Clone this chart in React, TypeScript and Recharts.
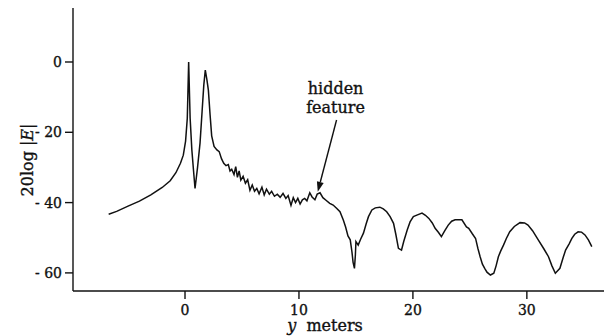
import { LineChart, Line, XAxis, YAxis, ReferenceLine } from "recharts";

// distance along y (meters) and field level 20log|E| (dB)
const distance = [
  -6.7, -6.0, -5.0, -4.0, -3.0, -2.0, -1.3, -0.8, -0.4, -0.15, 0.05, 0.2, 0.32, 0.45, 0.6, 0.75,
  0.88, 1.1, 1.32, 1.5, 1.65, 1.78, 1.92, 2.05, 2.2, 2.34, 2.55, 2.8, 3.0, 3.2, 3.4, 3.6, 3.8,
  3.95, 4.1, 4.3, 4.45, 4.6, 4.75, 4.9, 5.1, 5.3, 5.5, 5.7, 5.9, 6.1, 6.3, 6.5, 6.75, 6.95, 7.15,
  7.4, 7.6, 7.85, 8.1, 8.35, 8.6, 8.85, 9.05, 9.3, 9.5, 9.7, 9.9, 10.1, 10.3, 10.5, 10.7, 10.95,
  11.15, 11.4, 11.6, 11.85, 12.1, 12.4, 12.7, 13.0, 13.3, 13.6, 13.9, 14.1, 14.3, 14.5, 14.65,
  14.75, 14.87, 14.95, 15.0, 15.2, 15.4, 15.66, 15.9, 16.1, 16.4, 16.7, 17.1, 17.4, 17.7, 18.0,
  18.3, 18.5, 18.73, 19.0, 19.2, 19.5, 19.75, 20.04, 20.4, 20.8, 21.1, 21.4, 21.7, 21.95, 22.25,
  22.5, 22.8, 23.1, 23.4, 23.7, 24.3, 24.7, 24.9, 25.2, 25.5, 25.7, 25.9, 26.1, 26.3, 26.5, 26.8,
  27.1, 27.3, 27.5, 27.7, 27.95, 28.2, 28.5, 28.9, 29.4, 29.8, 30.1, 30.5, 31.0, 31.5, 31.9,
  32.2, 32.5, 32.9, 33.2, 33.4, 33.7, 33.95, 34.2, 34.5, 34.8, 35.1, 35.4, 35.7,
];

const level = [
  -43.3, -42.5, -41.0, -39.6, -37.8, -35.7, -33.8, -31.5, -28.8, -26.5, -22.5, -16, 0, -16, -25,
  -31, -36, -30, -23, -14, -6.5, -2.3, -5, -8, -15, -21, -24, -25, -25.5, -27.5, -28.8, -29.5,
  -29.2, -31, -30.5, -32, -29.8, -32.8, -31, -33.6, -32.5, -34.5, -33.5, -36.5, -35, -36.8, -36,
  -37.5, -35.6, -37.8, -36.2, -37.6, -36.8, -38.2, -37.6, -38.5, -37.4, -38.8, -38.0, -40.8,
  -38.6, -40.0, -38.8, -40.4, -39.2, -38.8, -39.5, -37.2, -38.4, -39.2, -37.6, -37.2, -38.6,
  -39.4, -40.2, -40.7, -41.6, -42.6, -45, -47, -49.5, -50.6, -54, -57, -58.7, -55, -51.1, -52.1,
  -50.5, -48.7, -46, -44, -42.1, -41.5, -41.3, -41.8, -42.6, -44, -45.9, -49, -53, -53.5, -51,
  -47.8, -45.5, -44, -43.5, -43, -43.6, -44.5, -45.8, -47.3, -48.5, -49.7, -48, -46.4, -45.3,
  -44.9, -44.9, -46.9, -47.3, -48.8, -50.2, -53, -55.4, -57.5, -58.7, -59.8, -60.6, -60.1, -58,
  -55.4, -53.8, -52.1, -50.2, -48.3, -46.8, -45.7, -45.8, -46.4, -48, -50.6, -53.2, -55.4, -58,
  -60.1, -58.7, -55.5, -53.5, -51.8, -50.2, -49, -48.3, -48.4, -49.2, -50.6, -52.5,
];

const xTicks = [0, 10, 20, 30];
const yTicks = [0, -20, -40, -60];

const data = distance.map((d, i) => ({ y: d, db: level[i] }));

const FONT = "'DejaVu Serif', serif";
const INK = "#111";
// thin outline on the glyphs to get the heavy print look without widening them
const heavy = { stroke: INK, strokeWidth: 0.35 };

const xDomain = [-9.83, 36.77];
const yDomain = [-65.15, 15.36];

// arrow pointing at the "hidden feature", with its caption above the tail
const ArrowShape = (props: any) => {
  const { x1, y1, x2, y2 } = props;
  const ang = Math.atan2(y2 - y1, x2 - x1);
  const len = 10;
  const w = 3.5;
  const bx = x2 - len * Math.cos(ang);
  const by = y2 - len * Math.sin(ang);
  const px = -Math.sin(ang) * w;
  const py = Math.cos(ang) * w;
  return (
    <g>
      <line x1={x1} y1={y1} x2={bx} y2={by} stroke={INK} strokeWidth={1.4} />
      <polygon
        points={`${x2},${y2} ${bx + px},${by + py} ${bx - px},${by - py}`}
        fill={INK}
      />
      <text x={x1 - 1} y={y1 - 26} textAnchor="middle" fontFamily={FONT} fontSize={16} fill={INK} {...heavy}>
        hidden
      </text>
      <text x={x1 - 1} y={y1 - 7} textAnchor="middle" fontFamily={FONT} fontSize={16} fill={INK} {...heavy}>
        feature
      </text>
    </g>
  );
};

const YTitle = () => (
  <text
    transform="rotate(-90)"
    x={-160}
    y={33}
    textAnchor="middle"
    fontFamily={FONT}
    fontSize={16}
    fill={INK}
    {...heavy}
  >
    20log |<tspan fontStyle="italic">E</tspan>|
  </text>
);

const XTitle = () => (
  <text x={325} y={331} textAnchor="middle" fontFamily={FONT} fontSize={16} fill={INK} {...heavy}>
    <tspan fontStyle="italic">y</tspan>
    {"\u00a0\u00a0meters"}
  </text>
);

export default function App() {
  return (
    <div style={{ width: 605, height: 336, background: "#fff" }}>
      <style>{`body{margin:0}`}</style>
      <LineChart
        width={605}
        height={336}
        data={data}
        margin={{ top: 8, right: 1, bottom: 0, left: 0 }}
      >
        <XAxis
          dataKey="y"
          type="number"
          domain={xDomain}
          allowDataOverflow
          ticks={xTicks}
          height={45}
          tickSize={8}
          tickMargin={6}
          stroke={INK}
          strokeWidth={1.4}
          tick={{ fill: INK, fontFamily: FONT, fontSize: 14, ...heavy }}
          label={{ content: () => <XTitle /> }}
        />
        <XAxis
          xAxisId="top"
          orientation="top"
          type="number"
          domain={xDomain}
          allowDataOverflow
          height={0}
          tick={false}
          tickLine={false}
          stroke={INK}
          strokeWidth={1.4}
        />
        <YAxis
          type="number"
          domain={yDomain}
          allowDataOverflow
          ticks={yTicks}
          width={73}
          tickSize={8}
          tickMargin={3}
          stroke={INK}
          strokeWidth={1.4}
          tick={{ fill: INK, fontFamily: FONT, fontSize: 14, ...heavy }}
          tickFormatter={(v: number) => (v < 0 ? `- ${Math.abs(v)}` : `${v}`)}
          label={{ content: () => <YTitle /> }}
        />
        <ReferenceLine
          segment={[
            { x: 13.3, y: -16.5 },
            { x: 11.65, y: -36.9 },
          ]}
          shape={ArrowShape}
          ifOverflow="visible"
        />
        <Line
          dataKey="db"
          type="linear"
          stroke={INK}
          strokeWidth={1.5}
          dot={false}
          isAnimationActive={false}
        />
      </LineChart>
    </div>
  );
}
